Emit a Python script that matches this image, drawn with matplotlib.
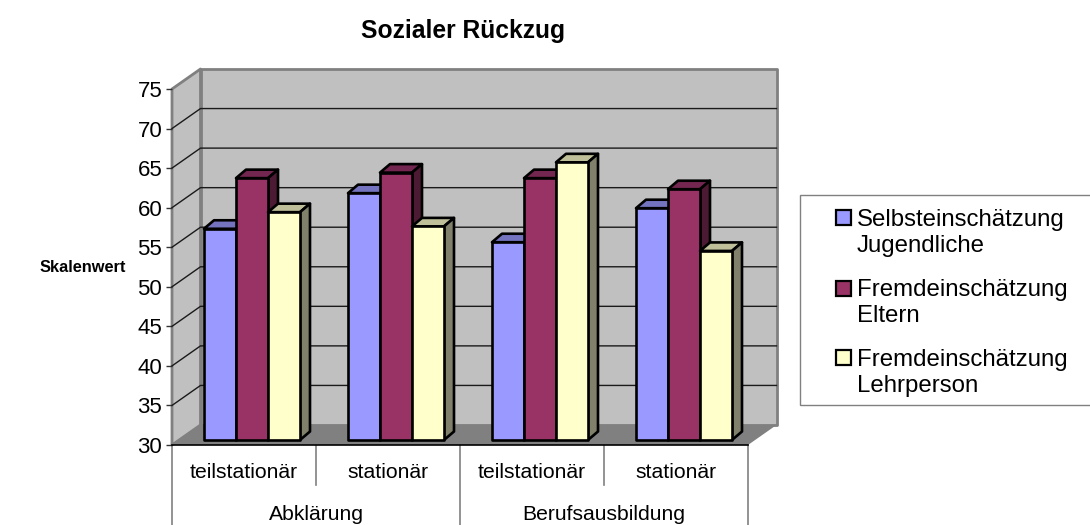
import matplotlib
matplotlib.use('Agg')
import matplotlib.pyplot as plt
from matplotlib.patches import Polygon, Rectangle

plt.rcParams['font.family'] = ['Liberation Sans', 'DejaVu Sans']

# data
title = 'Sozialer Rückzug'
ylabel = 'Skalenwert'
inner_labels = ['teilstationär', 'stationär', 'teilstationär', 'stationär']
outer_labels = ['Abklärung', 'Berufsausbildung']
series_names = ['Selbsteinschätzung\nJugendliche', 'Fremdeinschätzung\nEltern', 'Fremdeinschätzung\nLehrperson']
selbst = [56.7, 61.2, 55.0, 59.3]
eltern = [63.1, 63.8, 63.1, 61.7]
lehrer = [58.8, 57.0, 65.1, 53.9]
yticks = [30, 35, 40, 45, 50, 55, 60, 65, 70, 75]

# front, top, side colours of each series
colors = [('#9999FF', '#7373BF', '#4D4D80'),
          ('#993366', '#732650', '#4D1A33'),
          ('#FFFFCC', '#BFBF99', '#80806B')]

W, H = 1090, 525
fig = plt.figure(figsize=(W / 100, H / 100), dpi=100)
# axes = front plane of the 3d box
ax = fig.add_axes([172 / W, 1 - 445 / H, 576 / W, 356 / H])
ax.set_xlim(0, 4)
ax.set_ylim(30, 75)
ax.patch.set_visible(False)

# depth of the box and of the bars, in data units
box_dx = 28.5 / 144
box_dy = 20 / 7.91
bar_dx = 10 / 144
bar_dy = 8.5 / 7.91
base_dy = 5 / 7.91
bar_w = 32 / 144
start = 32 / 144


def poly(points, face, edge='none', lw=0, z=1):
    ax.add_patch(Polygon(points, closed=True, facecolor=face, edgecolor=edge,
                         linewidth=lw, clip_on=False, zorder=z, joinstyle='round'))


x0, x1, y0, y1 = 0, 4, 30, 75
# back wall, side wall, floor
poly([(x0 + box_dx, y0 + box_dy), (x1 + box_dx, y0 + box_dy), (x1 + box_dx, y1 + box_dy), (x0 + box_dx, y1 + box_dy)], '#C0C0C0', '#808080', 2, 1)
poly([(x0, y0), (x0 + box_dx, y0 + box_dy), (x0 + box_dx, y1 + box_dy), (x0, y1)], '#C0C0C0', '#808080', 2, 1)
poly([(x0, y0), (x0 + box_dx, y0 + box_dy), (x1 + box_dx, y0 + box_dy), (x1, y0)], '#808080', z=2)

# grid lines on both walls
for t in yticks[1:-1]:
    ax.plot([x0, x0 + box_dx, x1 + box_dx], [t, t + box_dy, t + box_dy], color='#1a1a1a', lw=1, clip_on=False, zorder=2)

# bars
for g in range(4):
    for s, vals in enumerate([selbst, eltern, lehrer]):
        left = g + start + s * bar_w
        right = left + bar_w
        bottom = y0 + base_dy
        top = vals[g] + base_dy
        front, upper, side = colors[s]
        z = 3 + g + s * 0.1
        poly([(left, top), (left + bar_dx, top + bar_dy), (right + bar_dx, top + bar_dy), (right, top)], upper, 'black', 1.9, z)
        poly([(right, bottom), (right + bar_dx, bottom + bar_dy), (right + bar_dx, top + bar_dy), (right, top)], side, 'black', 1.9, z)
        poly([(left, bottom), (right, bottom), (right, top), (left, top)], front, 'black', 1.9, z)

# axes look
for name in ['top', 'right', 'left']:
    ax.spines[name].set_visible(False)
ax.spines['bottom'].set_color('black')
ax.spines['bottom'].set_linewidth(1.2)
ax.spines['bottom'].set_zorder(20)
ax.set_xticks([])
ax.set_yticks(yticks)
ax.tick_params(axis='y', length=4, width=1, color='#333333', labelsize=16, pad=3)

# two level category axis below the plot
trans = ax.get_xaxis_transform()
for i, lab in enumerate(inner_labels):
    ax.text(i + 0.5, -28 / 356, lab, transform=trans, ha='center', va='center', fontsize=15.2, color='black')
for i, lab in enumerate(outer_labels):
    ax.text(i * 2 + 1, -70 / 356, lab, transform=trans, ha='center', va='center', fontsize=15.2, color='black')
for x, low in [(0, -81 / 356), (1, -40 / 356), (2, -81 / 356), (3, -40 / 356), (4, -81 / 356)]:
    ax.plot([x, x], [0, low], transform=trans, color='#808080', lw=1.2, clip_on=False, zorder=1)

fig.text(463 / W, 1 - 31 / H, title, ha='center', va='center', fontsize=17.7, fontweight='bold')
fig.text(83 / W, 1 - 268 / H, ylabel, ha='center', va='center', fontsize=11.8, fontweight='bold')

# legend
fig.add_artist(Rectangle((800 / W, 1 - 405 / H), 300 / W, 210 / H, transform=fig.transFigure,
                         facecolor='white', edgecolor='#808080', linewidth=1))
for s, name in enumerate(series_names):
    sy = [217, 288, 357][s]
    ty = [233, 303, 373][s]
    fig.add_artist(Rectangle((836 / W, 1 - (sy + 8) / H), 15 / W, 15 / H, transform=fig.transFigure,
                             facecolor=colors[s][0], edgecolor='black', linewidth=1.6))
    fig.text(857 / W, 1 - ty / H, name, ha='left', va='center', fontsize=17.3, linespacing=1.25)

fig.savefig('out.png', dpi=100)
